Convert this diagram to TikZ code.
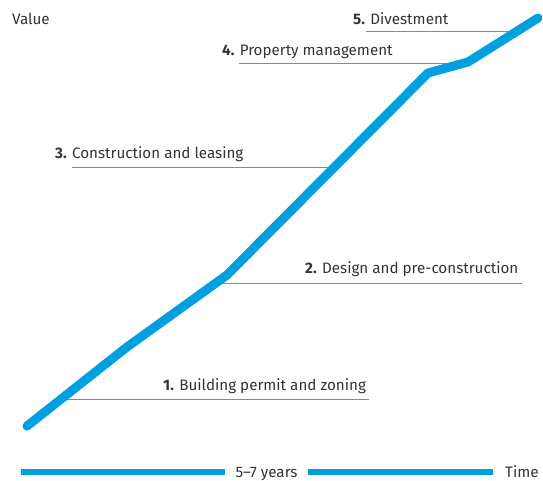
\documentclass[tikz,border=0pt]{standalone}
\usepackage{fontspec}
\setmainfont{Fira Sans}
\usetikzlibrary{positioning}
\definecolor{valblue}{HTML}{009FDF}
\definecolor{leadgray}{HTML}{8A8A8A}
\definecolor{textgray}{HTML}{333333}

\begin{document}
\begin{tikzpicture}
		[x=1pt,y=-1pt,
		phase/.style ={text=textgray, font=\fontsize{15.2}{18}\selectfont, inner sep=0pt, anchor=base west},
		axislabel/.style ={text=textgray, font=\fontsize{15.2}{18}\selectfont, inner ysep=0pt, anchor=base},
		leader/.style ={draw=leadgray, line width=0.8pt},
		valline/.style ={draw=valblue, line width=9pt, line cap=round, line join=round},
		timebar/.style ={draw=valblue, line width=6pt}]
		\useasboundingbox (0,0) rectangle (543,480);
		% points of the value curve
		\coordinate (v0) at (27,426);
		\coordinate (v1) at (127,347);
		\coordinate (v2) at (227,275);
		\coordinate (v3) at (428,73);
		\coordinate (v4) at (468,62);
		\coordinate (v5) at (538,18);
		% labels
		\draw (12,24) node[phase] (value) {Value};
		\draw (163,390) node[phase] (ph1) {\textbf{1.} Building permit and zoning};
		\draw (305,273) node[phase] (ph2) {\textbf{2.} Design and pre-construction};
		\draw (55,158) node[phase] (ph3) {\textbf{3.} Construction and leasing};
		\draw (222,55) node[phase] (ph4) {\textbf{4.} Property management};
		\draw (353,24) node[phase] (ph5) {\textbf{5.} Divestment};
		% leaders
		\coordinate (k1) at (60,399);
		\coordinate (e1) at (369,399);
		\coordinate (k2) at (216,283);
		\coordinate (e2) at (522,283);
		\coordinate (s3) at (72,167);
		\coordinate (k3) at (334,167);
		\coordinate (s4) at (239,63);
		\coordinate (k4) at (460,63);
		\coordinate (s5) at (366,31);
		\coordinate (k5) at (515,31);
		\draw[leader] (k1) -- (e1);
		\draw[leader] (k2) -- (e2);
		\draw[leader] (s3) -- (k3);
		\draw[leader] (s4) -- (k4);
		\draw[leader] (s5) -- (k5);
		% curve
		\draw[valline] (v0) -- (v1) -- (v2) -- (v3) -- (v4) -- (v5);
		% time axis
		\draw (266.5,477) node[axislabel, inner xsep=10pt] (years) {5–7 years};
		\draw (505,477) node[phase] (time) {Time};
		\coordinate (t0) at (21,472);
		\coordinate (t1) at (493,472);
		\draw[timebar] (t0) -- (years.west |- t0);
		\draw[timebar] (years.east |- t0) -- (t1);
	\end{tikzpicture}
\end{document}
